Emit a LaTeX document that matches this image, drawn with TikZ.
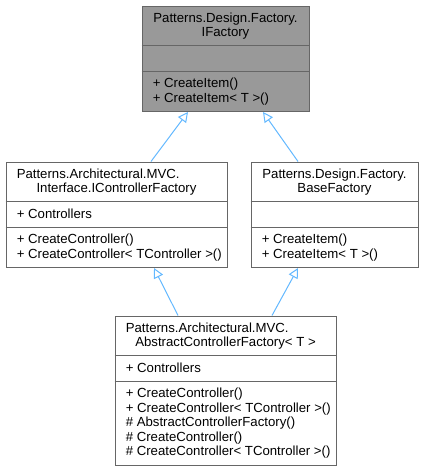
\documentclass[tikz,border=0pt]{standalone}
\usepackage{fontspec}
\setmainfont{Liberation Sans}
\usetikzlibrary{arrows.meta}
\definecolor{boxline}{HTML}{666666}
\definecolor{topfill}{HTML}{999999}
\definecolor{edgeblue}{HTML}{63B8FF}
\begin{document}
\begin{tikzpicture}[x=0.75pt,y=-0.75pt,
  umlbox/.style={draw=boxline,line width=0.75pt,rectangle,inner sep=0pt,anchor=north west,minimum height=79.125pt},
  divider/.style={draw=boxline,line width=0.75pt},
  txt/.style={inner sep=0pt,font=\fontsize{9.9pt}{10.9pt}\selectfont},
  ltxt/.style={txt,anchor=base west},
  ctxt/.style={txt,anchor=base},
  inh/.style={draw=edgeblue,line width=0.75pt,-{Triangle[open,length=7.5pt,width=7.5pt]}}
]
\useasboundingbox (0,0) rectangle (423,471);

% boxes
\node[umlbox,fill=topfill,minimum width=125.25pt] (A) at (141.5,5.5) {};
\node[umlbox,fill=white,minimum width=165.75pt] (B) at (5.5,161.5) {};
\node[umlbox,fill=white,minimum width=125.25pt] (C) at (250.5,161.5) {};
\node[umlbox,fill=white,minimum width=165.75pt,minimum height=111.75pt] (D) at (114.5,315.5) {};

% dividers
\foreach \b in {A,B,C,D}{
  \draw[divider] ([shift={(0,40)}]\b.north west) -- ([shift={(0,40)}]\b.north east);
  \draw[divider] ([shift={(0,65.5)}]\b.north west) -- ([shift={(0,65.5)}]\b.north east);
}

% texts A
\node[ctxt] (a1) at ([shift={(0,16.5)}]A.north) {Patterns.Design.Factory.};
\node[ctxt] (a2) at ([shift={(0,31)}]A.north) {IFactory};
\node[ltxt] (a3) at ([shift={(11,82)}]A.north west) {+ CreateItem()};
\node[ltxt] (a4) at ([shift={(11,96.5)}]A.north west) {+ CreateItem< T >()};

% texts B
\node[ltxt] (b1) at ([shift={(11,16.5)}]B.north west) {Patterns.Architectural.MVC.};
\node[ctxt] (b2) at ([shift={(0,31)}]B.north) {Interface.IControllerFactory};
\node[ltxt] (b3) at ([shift={(11,56.5)}]B.north west) {+ Controllers};
\node[ltxt] (b4) at ([shift={(11,82)}]B.north west) {+ CreateController()};
\node[ltxt] (b5) at ([shift={(11,96.5)}]B.north west) {+ CreateController< TController >()};

% texts C
\node[ctxt] (c1) at ([shift={(0,16.5)}]C.north) {Patterns.Design.Factory.};
\node[ctxt] (c2) at ([shift={(0,31)}]C.north) {BaseFactory};
\node[ltxt] (c3) at ([shift={(11,82)}]C.north west) {+ CreateItem()};
\node[ltxt] (c4) at ([shift={(11,96.5)}]C.north west) {+ CreateItem< T >()};

% texts D
\node[ltxt] (d1) at ([shift={(11,16.5)}]D.north west) {Patterns.Architectural.MVC.};
\node[ctxt] (d2) at ([shift={(0,31)}]D.north) {AbstractControllerFactory< T >};
\node[ltxt] (d3) at ([shift={(11,56.5)}]D.north west) {+ Controllers};
\node[ltxt] (d4) at ([shift={(11,82)}]D.north west) {+ CreateController()};
\node[ltxt] (d5) at ([shift={(11,96.5)}]D.north west) {+ CreateController< TController >()};
\node[ltxt] (d6) at ([shift={(11,111)}]D.north west) {\# AbstractControllerFactory()};
\node[ltxt] (d7) at ([shift={(11,125.5)}]D.north west) {\# CreateController()};
\node[ltxt] (d8) at ([shift={(11,140)}]D.north west) {\# CreateController< TController >()};

% inheritance edges
\draw[inh] ([shift={(145.5,0)}]B.north west) -- ([shift={(46.5,0)}]A.south west);
\draw[inh] ([shift={(47.5,0)}]C.north west) -- ([shift={(121.5,0)}]A.south west);
\draw[inh] ([shift={(63.5,0)}]D.north west) -- ([shift={(148.5,0)}]B.south west);
\draw[inh] ([shift={(157.5,0)}]D.north west) -- ([shift={(47.5,0)}]C.south west);
\end{tikzpicture}
\end{document}
